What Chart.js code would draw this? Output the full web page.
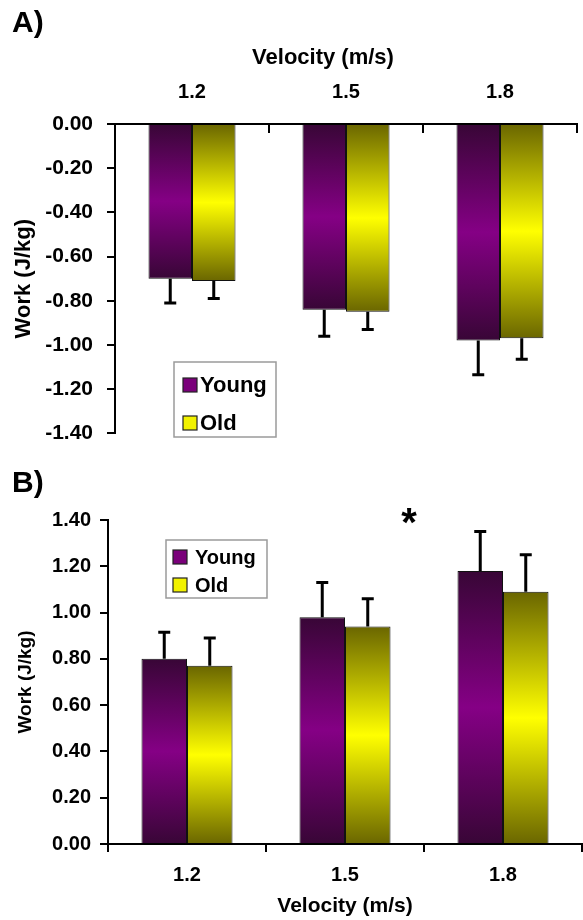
<!DOCTYPE html>
<html>
<head>
<meta charset="utf-8">
<script src="https://cdn.jsdelivr.net/npm/chart.js@4.4.1/dist/chart.umd.min.js"></script>
<style>
  html, body { margin: 0; padding: 0; background: #fff; }
  canvas { display: block; }
</style>
</head>
<body>
<canvas id="chart-neg" width="583" height="460"></canvas>
<canvas id="chart-pos" width="583" height="460"></canvas>
<script>
// velocities (m/s)
const velocities = ['1.2', '1.5', '1.8'];
const seriesNames = ['Young', 'Old'];

// A) negative work (J/kg)
const negYoung = [-0.70, -0.84, -0.98];
const negYoungErr = [0.11, 0.12, 0.155];
const negOld = [-0.71, -0.85, -0.97];
const negOldErr = [0.08, 0.08, 0.095];

// B) positive work (J/kg)
const posYoung = [0.80, 0.98, 1.18];
const posYoungErr = [0.115, 0.15, 0.17];
const posOld = [0.77, 0.94, 1.09];
const posOldErr = [0.12, 0.12, 0.16];

const FONT = "'Liberation Sans', Arial, sans-serif";
Chart.defaults.color = '#000';
Chart.defaults.font.family = FONT;
Chart.defaults.font.weight = 'bold';

const palette = {
    Young: { dark: '#380636', mid: '#850085', swatch: '#7a007a' },
    Old: { dark: '#6a6600', mid: '#ffff00', swatch: '#f2f200' }
};

// per-bar gradient: dark at both ends, bright in the middle
function barFill(name) {
    const c = palette[name];
    return (ctx) => {
        const chart = ctx.chart;
        if (!chart.chartArea || ctx.raw === undefined) return c.mid;
        const ys = chart.scales.y;
        const y0 = ys.getPixelForValue(0);
        const y1 = ys.getPixelForValue(ctx.raw);
        if (!isFinite(y0) || !isFinite(y1) || y0 === y1) return c.mid;
        const g = chart.ctx.createLinearGradient(0, y0, 0, y1);
        g.addColorStop(0, c.dark);
        g.addColorStop(0.5, c.mid);
        g.addColorStop(1, c.dark);
        return g;
    };
}

function makeDataset(name, values, errors) {
    return {
        label: name,
        data: values,
        errors: errors,
        backgroundColor: barFill(name),
        borderColor: '#111',
        borderWidth: 1
    };
}

// error bars, legend box, extra texts and inner ticks
const decor = {
    id: 'decor',
    afterDatasetsDraw(chart, args, opts) {
        const ctx = chart.ctx;
        const ys = chart.scales.y;
        ctx.save();
        ctx.strokeStyle = '#000';
        ctx.lineWidth = 3;
        chart.data.datasets.forEach((ds, di) => {
            const meta = chart.getDatasetMeta(di);
            meta.data.forEach((bar, i) => {
                const v = ds.data[i];
                const end = v + Math.sign(v) * ds.errors[i];
                const ye = ys.getPixelForValue(end);
                ctx.beginPath();
                ctx.moveTo(bar.x, bar.y);
                ctx.lineTo(bar.x, ye);
                ctx.moveTo(bar.x - 6, ye);
                ctx.lineTo(bar.x + 6, ye);
                ctx.stroke();
            });
        });
        ctx.restore();
    },
    afterDraw(chart, args, opts) {
        const ctx = chart.ctx;
        ctx.save();

        // tick marks pointing into the plot (top axis of panel A)
        if (opts.innerTicks) {
            const xs = chart.scales.x;
            const top = chart.chartArea.top;
            ctx.strokeStyle = '#000';
            ctx.lineWidth = 2;
            for (let i = 1; i <= chart.data.labels.length; i++) {
                const x = Math.round(xs.getPixelForValue(i - 0.5));
                ctx.beginPath();
                ctx.moveTo(x, top);
                ctx.lineTo(x, top + opts.innerTicks);
                ctx.stroke();
            }
        }

        (opts.texts || []).forEach(t => {
            ctx.font = `bold ${t.size}px ${FONT}`;
            ctx.fillStyle = '#000';
            ctx.textAlign = t.align || 'left';
            ctx.textBaseline = t.baseline || 'alphabetic';
            ctx.fillText(t.text, t.x, t.y);
        });

        const lg = opts.legend;
        if (lg) {
            ctx.fillStyle = '#fff';
            ctx.fillRect(lg.x, lg.y, lg.w, lg.h);
            ctx.strokeStyle = '#9a9a9a';
            ctx.lineWidth = 1.5;
            ctx.strokeRect(lg.x, lg.y, lg.w, lg.h);
            chart.data.datasets.forEach((ds, i) => {
                const cy = lg.rows[i];
                const c = palette[ds.label];
                ctx.fillStyle = c.swatch;
                ctx.fillRect(lg.x + lg.sx, cy - lg.sw / 2, lg.sw, lg.sw);
                ctx.strokeStyle = '#222';
                ctx.lineWidth = 1.2;
                ctx.strokeRect(lg.x + lg.sx, cy - lg.sw / 2, lg.sw, lg.sw);
                ctx.fillStyle = '#000';
                ctx.font = `bold ${lg.size}px ${FONT}`;
                ctx.textAlign = 'left';
                ctx.textBaseline = 'middle';
                ctx.fillText(ds.label, lg.x + lg.tx, cy + 1);
            });
        }
        ctx.restore();
    }
};

const axisLine = { color: '#000', width: 2 };
const tickGrid = { drawOnChartArea: false, drawTicks: true, tickLength: 8, color: '#000', lineWidth: 2 };

// A) negative work
new Chart(document.getElementById('chart-neg').getContext('2d'), {
    type: 'bar',
    data: {
        labels: velocities,
        datasets: [
            makeDataset(seriesNames[0], negYoung, negYoungErr),
            makeDataset(seriesNames[1], negOld, negOldErr)
        ]
    },
    options: {
        responsive: false,
        animation: false,
        layout: { padding: { left: 0, right: 6, top: 0, bottom: 12 } },
        datasets: { bar: { categoryPercentage: 0.565, barPercentage: 1.0 } },
        scales: {
            x: {
                position: 'top',
                afterFit: s => { s.height = 124; },
                grid: { display: true, drawOnChartArea: false, drawTicks: false },
                border: axisLine,
                ticks: { font: { size: 20 }, padding: 20 }
            },
            y: {
                min: -1.4, max: 0,
                afterFit: s => { s.width = 115; },
                grid: tickGrid,
                border: axisLine,
                ticks: { stepSize: 0.2, font: { size: 21 }, padding: 14, callback: v => v.toFixed(2) },
                title: { display: true, text: 'Work (J/kg)', font: { size: 22 }, padding: { top: 11 } }
            }
        },
        plugins: {
            legend: { display: false },
            tooltip: { enabled: false },
            decor: {
                innerTicks: 9,
                texts: [
                    { text: 'A)', x: 12, y: 32, size: 30 },
                    { text: 'Velocity (m/s)', x: 323, y: 58, size: 22, align: 'center', baseline: 'middle' }
                ],
                legend: { x: 174, y: 362, w: 102, h: 75, rows: [385, 423], sx: 9, sw: 14, tx: 26, size: 22 }
            }
        }
    },
    plugins: [decor]
});

// B) positive work
new Chart(document.getElementById('chart-pos').getContext('2d'), {
    type: 'bar',
    data: {
        labels: velocities,
        datasets: [
            makeDataset(seriesNames[0], posYoung, posYoungErr),
            makeDataset(seriesNames[1], posOld, posOldErr)
        ]
    },
    options: {
        responsive: false,
        animation: false,
        layout: { padding: { left: 0, right: 1, top: 60, bottom: 0 } },
        datasets: { bar: { categoryPercentage: 0.576, barPercentage: 1.0 } },
        scales: {
            x: {
                position: 'bottom',
                afterFit: s => { s.height = 76; },
                grid: tickGrid,
                border: axisLine,
                ticks: { font: { size: 20 }, padding: 11 },
                title: { display: true, text: 'Velocity (m/s)', font: { size: 21 }, padding: { top: 0, bottom: 1 } }
            },
            y: {
                min: 0, max: 1.4,
                afterFit: s => { s.width = 108; },
                grid: tickGrid,
                border: axisLine,
                ticks: { stepSize: 0.2, font: { size: 20 }, padding: 9, callback: v => v.toFixed(2) },
                title: { display: true, text: 'Work (J/kg)', font: { size: 19 }, padding: { top: 14 } }
            }
        },
        plugins: {
            legend: { display: false },
            tooltip: { enabled: false },
            decor: {
                texts: [
                    { text: 'B)', x: 12, y: 32, size: 30 },
                    { text: '*', x: 409, y: 76, size: 40, align: 'center' }
                ],
                legend: { x: 166, y: 80, w: 101, h: 58, rows: [97, 125], sx: 7, sw: 14, tx: 29, size: 20 }
            }
        }
    },
    plugins: [decor]
});
</script>
</body>
</html>
